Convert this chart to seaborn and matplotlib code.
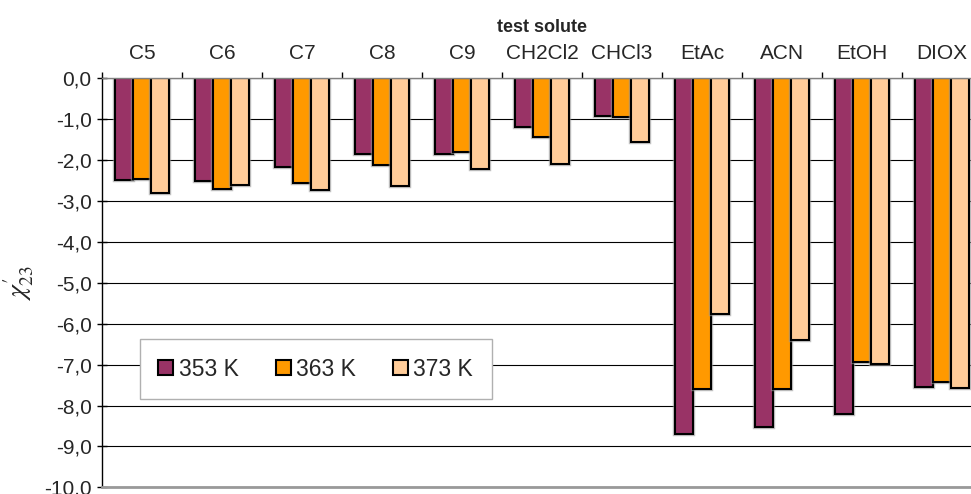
import matplotlib
matplotlib.use("Agg")
import matplotlib.pyplot as plt
import matplotlib.patheffects as pe
import seaborn as sns
import pandas as pd
from matplotlib.ticker import FuncFormatter

# Interaction parameter chi'_23 for each test solute at three temperatures
solutes = ["C5", "C6", "C7", "C8", "C9", "CH2Cl2", "CHCl3", "EtAc", "ACN", "EtOH", "DIOX"]
temps = ["353 K", "363 K", "373 K"]
chi_353 = [-2.48, -2.50, -2.16, -1.85, -1.85, -1.19, -0.91, -8.69, -8.53, -8.22, -7.55]
chi_363 = [-2.46, -2.71, -2.55, -2.12, -1.80, -1.43, -0.95, -7.60, -7.60, -6.93, -7.42]
chi_373 = [-2.81, -2.61, -2.74, -2.63, -2.22, -2.10, -1.56, -5.76, -6.39, -6.99, -7.56]
y_ticks = [0, -1, -2, -3, -4, -5, -6, -7, -8, -9, -10]

colors = ["#993366", "#FF9900", "#FFCC99"]

df = pd.DataFrame({
    "solute": solutes * 3,
    "T": [t for t in temps for _ in solutes],
    "chi": chi_353 + chi_363 + chi_373,
})

sns.set_style("white")
plt.rcParams["font.family"] = ["Liberation Sans", "DejaVu Sans"]
plt.rcParams["mathtext.fontset"] = "stix"

fig = plt.figure(figsize=(9.71, 4.94), dpi=100)
ax = fig.add_axes([102 / 971, 1 - 487.3 / 494, 880 / 971, (487.3 - 78.3) / 494])

sns.barplot(data=df, x="solute", y="chi", hue="T", palette=colors, saturation=1,
            width=0.675, edgecolor="black", linewidth=1.5, errorbar=None, ax=ax)

# soft grey halo around each bar
for bar in ax.patches:
    bar.set_path_effects([pe.Stroke(linewidth=3.2, foreground="#9a9a9a", alpha=0.6),
                          pe.Normal()])

# category axis along the top, tick marks between categories
ax.set_xlim(-0.5, len(solutes) - 0.5)
ax.xaxis.tick_top()
ax.xaxis.set_label_position("top")
ax.set_xlabel("test solute", fontweight="bold", fontsize=13, labelpad=9)
ax.tick_params(axis="x", which="major", length=0, pad=11, labelsize=15)
ax.set_xticks([i - 0.5 for i in range(len(solutes) + 1)], minor=True)
ax.tick_params(axis="x", which="minor", top=True, bottom=False, length=4.5,
               width=1, color="black", direction="out")

# value axis
ax.set_ylim(-10, 0)
ax.set_yticks(y_ticks)
ax.yaxis.set_major_formatter(FuncFormatter(lambda v, p: f"{v:.1f}".replace(".", ",")))
ax.tick_params(axis="y", left=True, length=7, width=1, color="black",
               direction="inout", pad=4, labelsize=15)
ax.set_ylabel(r"$\chi^{\prime}_{23}$", fontsize=20, labelpad=6)

ax.yaxis.grid(True, color="black", linewidth=0.8)
ax.set_axisbelow(True)

ax.spines["left"].set_color("black")
ax.spines["left"].set_linewidth(1)
ax.spines["top"].set_color("#808080")
ax.spines["top"].set_linewidth(1)
ax.spines["bottom"].set_color("#999999")
ax.spines["bottom"].set_linewidth(2)
ax.spines["right"].set_visible(False)

handles, labels = ax.get_legend_handles_labels()
leg = ax.legend(handles, labels, ncol=3, loc="center", bbox_to_anchor=(0.243, 0.289),
                fontsize=16.5, frameon=True, fancybox=False, edgecolor="#b0b0b0",
                framealpha=1, handlelength=0.65, handleheight=0.65,
                handletextpad=0.25, columnspacing=1.6, borderpad=0.8)
leg.get_frame().set_linewidth(1)
for p in leg.get_patches():
    p.set_edgecolor("black")
    p.set_linewidth(1.5)
    p.set_path_effects([])

fig.savefig("out.png", dpi=100)
